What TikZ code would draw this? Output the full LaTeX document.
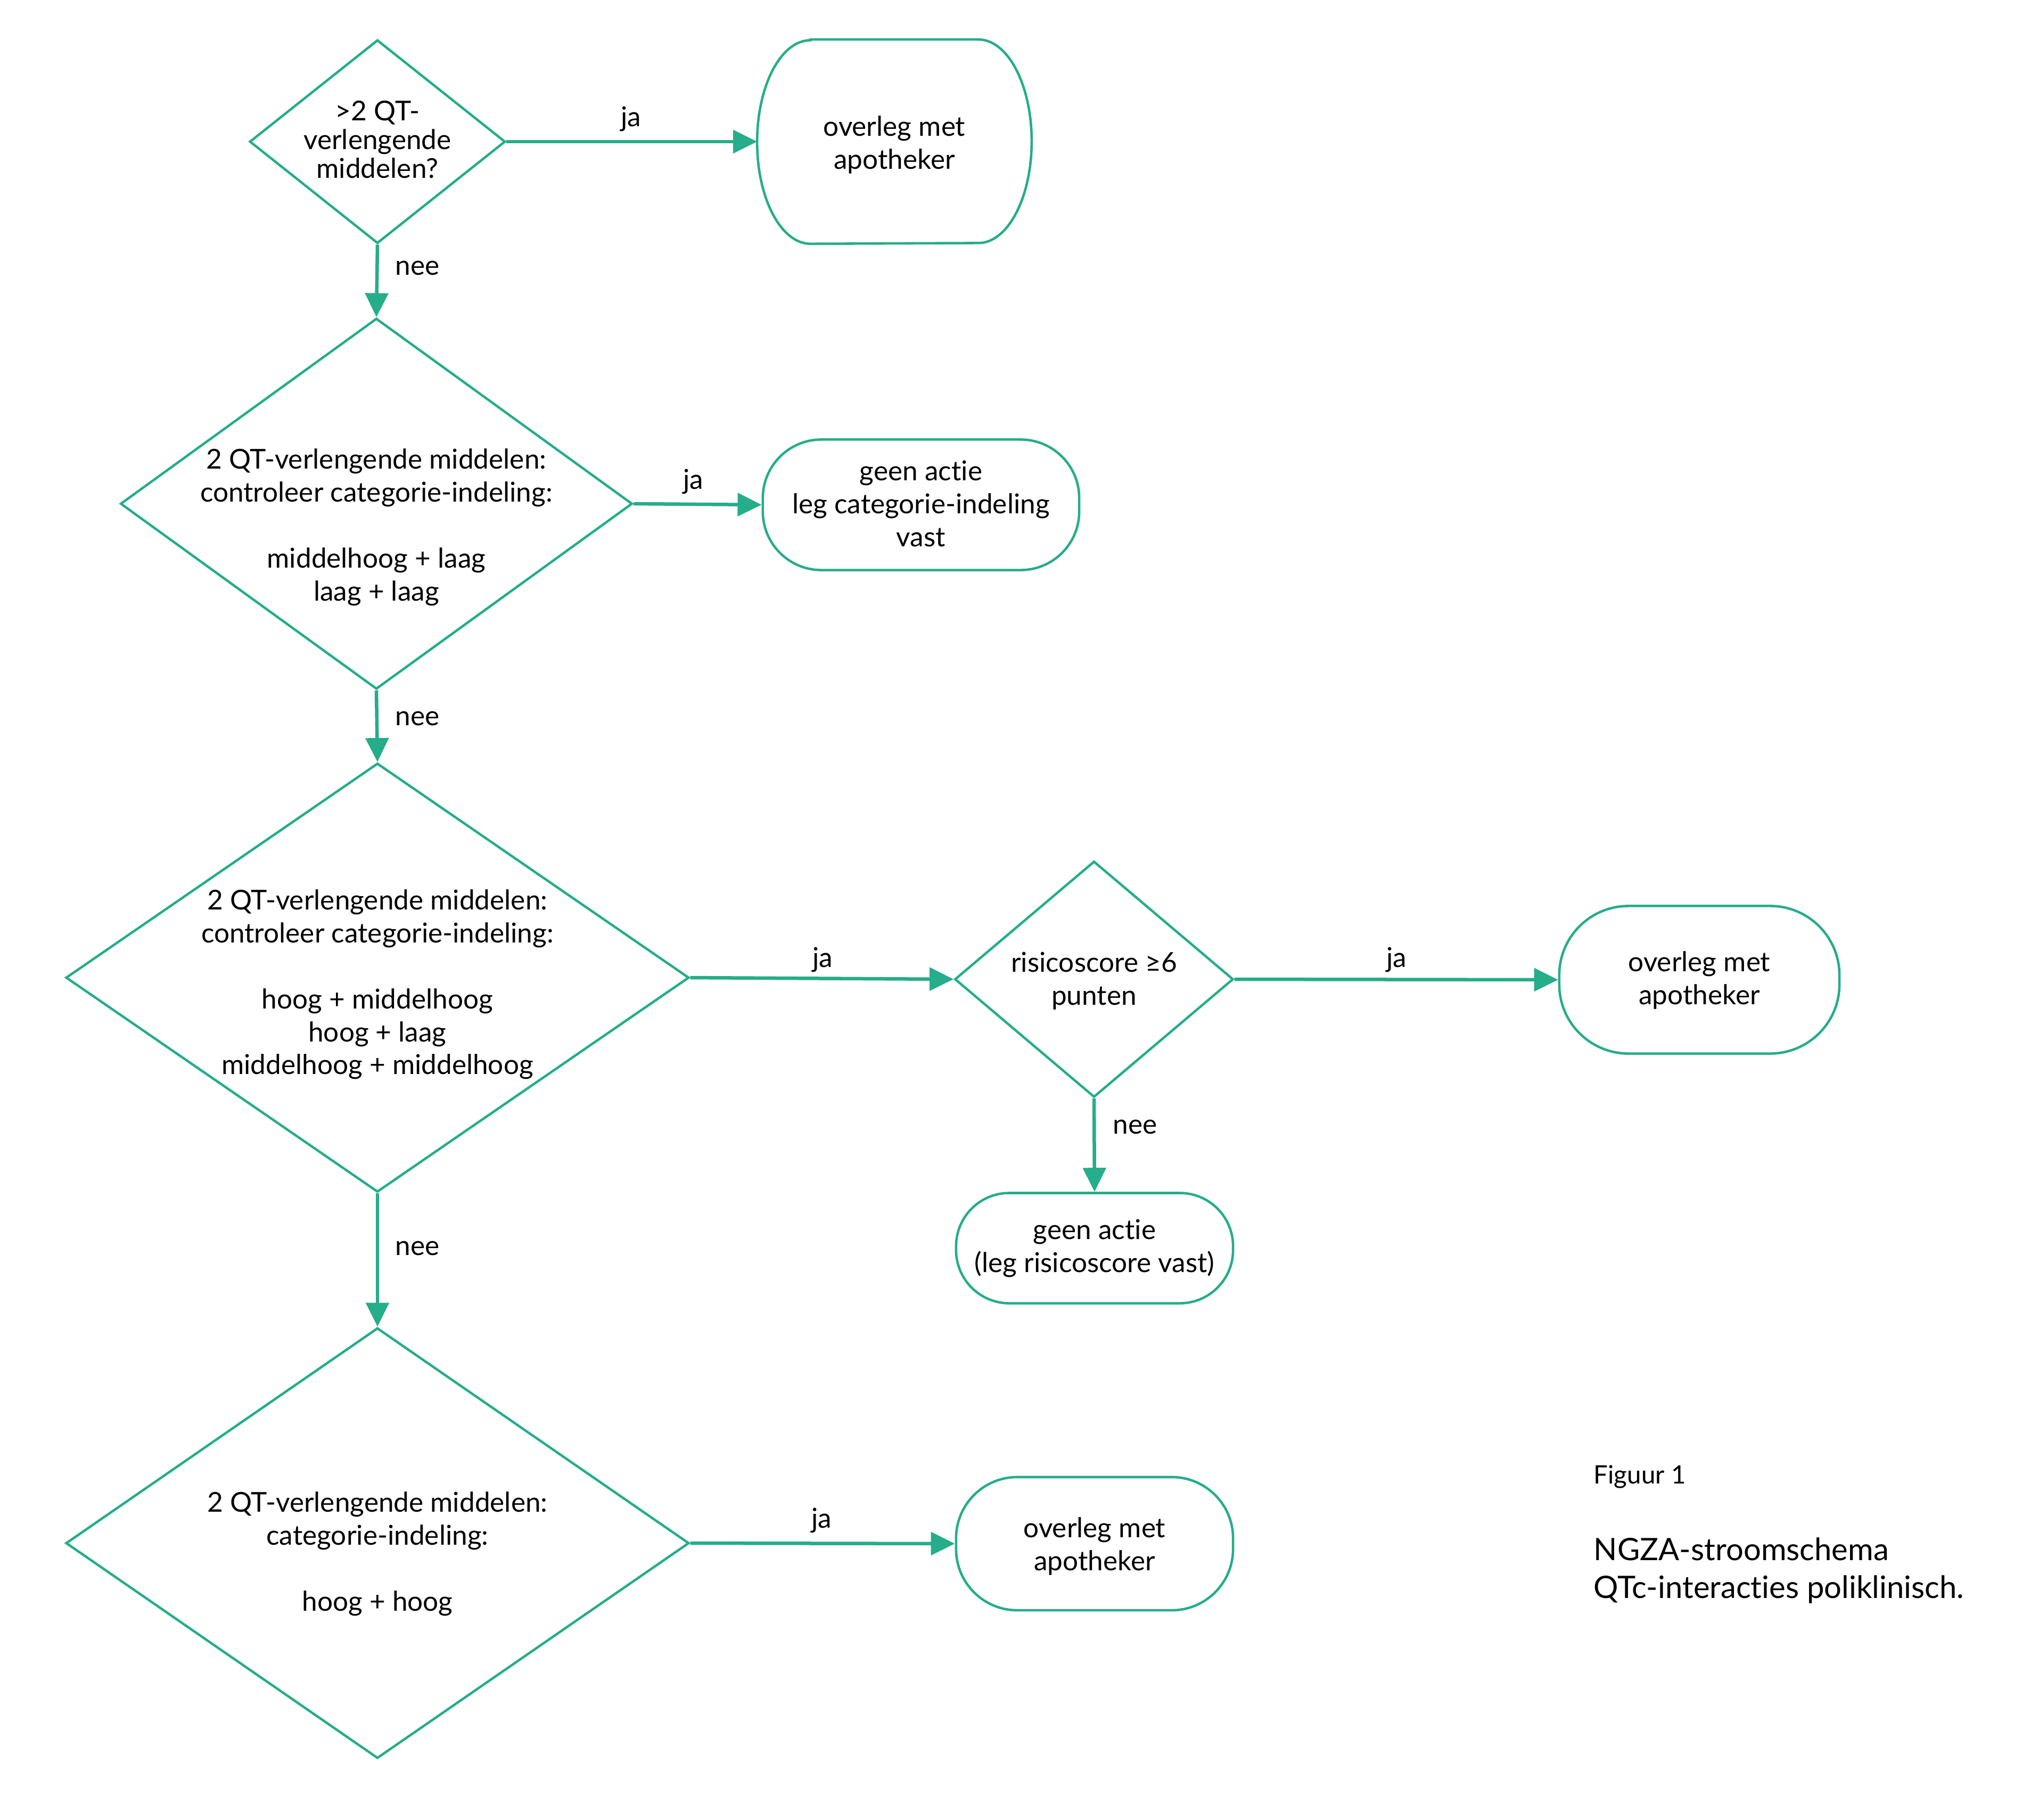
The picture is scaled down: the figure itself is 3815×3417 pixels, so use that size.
\documentclass[tikz,border=0pt]{standalone}
\usepackage{fontspec}
\setmainfont{Lato}[Ligatures=NoCommon]
\usetikzlibrary{shapes.geometric,arrows.meta}
\definecolor{tealline}{RGB}{38,173,138}
\begin{document}
\begin{tikzpicture}[x=0.01cm,y=-0.01cm,
  shapeline/.style={draw=tealline, line width=1.3pt},
  dia/.style={shapeline, diamond, inner sep=0pt},
  txt/.style={align=center, font=\fontsize{14.6}{17.6}\selectfont, inner sep=0pt},
  termbox/.style={shapeline, rectangle, inner sep=0pt},
  conn/.style={draw=tealline, line width=1.85pt, -{Triangle[length=12.8pt,width=12.2pt]}},
  lbl/.style={font=\fontsize{14.6}{17.6}\selectfont, inner sep=0pt},
  capsmall/.style={font=\fontsize{13.5}{16}\selectfont, inner sep=0pt, anchor=west},
  capbig/.style={font=\fontsize{16.5}{20.2}\selectfont, inner sep=0pt, anchor=west, align=left}]
\useasboundingbox (0,0) rectangle (3815,3417);

% diamonds
\node[dia, minimum width=4.8cm, minimum height=3.82cm] (d1) at (709,266) {};
\node[txt, font=\fontsize{14.6}{15.4}\selectfont] (t1) at (709,262) {>2 QT-\\verlengende\\middelen?};

\node[dia, minimum width=9.61cm, minimum height=6.96cm] (d2) at (707,946) {};
\node[txt] (t2) at (707,990) {2 QT-verlengende middelen:\\controleer categorie-indeling:\\[17.6pt]middelhoog + laag\\laag + laag};

\node[dia, minimum width=11.7cm, minimum height=8.05cm] (d3) at (709,1836) {};
\node[txt] (t3) at (709,1849) {2 QT-verlengende middelen:\\controleer categorie-indeling:\\[17.6pt]hoog + middelhoog\\hoog + laag\\middelhoog + middelhoog};

\node[dia, minimum width=5.23cm, minimum height=4.43cm] (d4) at (2055,1839) {};
\node[txt] (t4) at (2055,1842) {risicoscore ≥6\\punten};

\node[dia, minimum width=11.7cm, minimum height=8.08cm] (d5) at (709,2898) {};
\node[txt] (t5) at (709,2918) {2 QT-verlengende middelen:\\categorie-indeling:\\[17.6pt]hoog + hoog};

% terminal boxes
\node[rectangle, minimum width=5.14cm, minimum height=3.82cm, inner sep=0pt] (b1) at (1680,266) {};
\draw[shapeline] ([xshift=1cm]b1.north west) -- ([xshift=-1cm]b1.north east)
  arc[start angle=90, end angle=0, x radius=1cm, y radius=1.91cm]
  arc[start angle=0, end angle=-90, x radius=1cm, y radius=1.91cm]
  -- ([xshift=1cm]b1.south west)
  arc[start angle=270, end angle=180, x radius=1cm, y radius=1.91cm]
  arc[start angle=180, end angle=90, x radius=1cm, y radius=1.91cm] -- cycle;
\node[txt] (bt1) at (1680,272) {overleg met\\apotheker};

\node[termbox, minimum width=5.94cm, minimum height=2.45cm, rounded corners=1.1cm] (b2) at (1730,948) {};
\node[txt] (bt2) at (1730,946) {geen actie\\leg categorie-indeling\\vast};

\node[termbox, minimum width=5.26cm, minimum height=2.77cm, rounded corners=1.3cm] (b3) at (3192,1840) {};
\node[txt] (bt3) at (3192,1841) {overleg met\\apotheker};

\node[termbox, minimum width=5.2cm, minimum height=2.07cm, rounded corners=1.0cm] (b4) at (2056,2344) {};
\node[txt] (bt4) at (2056,2344) {geen actie\\(leg risicoscore vast)};

\node[termbox, minimum width=5.2cm, minimum height=2.5cm, rounded corners=1.15cm] (b5) at (2056,2899) {};
\node[txt] (bt5) at (2056,2904) {overleg met\\apotheker};

% connectors
\draw[conn] (d1.east) -- (b1.west);
\draw[conn] (d1.south) -- (d2.north);
\draw[conn] (d2.east) -- (b2.west);
\draw[conn] (d2.south) -- (d3.north);
\draw[conn] (d3.east) -- (d4.west);
\draw[conn] (d4.east) -- (b3.west);
\draw[conn] (d4.south) -- (b4.north);
\draw[conn] (d3.south) -- (d5.north);
\draw[conn] (d5.east) -- (b5.west);

% labels
\node[lbl] (l1) at (1185,223) {ja};
\node[lbl, anchor=west] (l2) at (742,503) {nee};
\node[lbl] (l3) at (1302,904) {ja};
\node[lbl, anchor=west] (l4) at (742,1349) {nee};
\node[lbl] (l5) at (1545,1802) {ja};
\node[lbl] (l6) at (2623,1802) {ja};
\node[lbl, anchor=west] (l7) at (2090,2116) {nee};
\node[lbl, anchor=west] (l8) at (742,2344) {nee};
\node[lbl] (l9) at (1543,2855) {ja};

% caption
\node[capsmall] (c1) at (2993,2773) {Figuur 1};
\node[capbig] (c2) at (2993,2950) {NGZA-stroomschema\\QTc-interacties poliklinisch.};
\end{tikzpicture}
\end{document}
